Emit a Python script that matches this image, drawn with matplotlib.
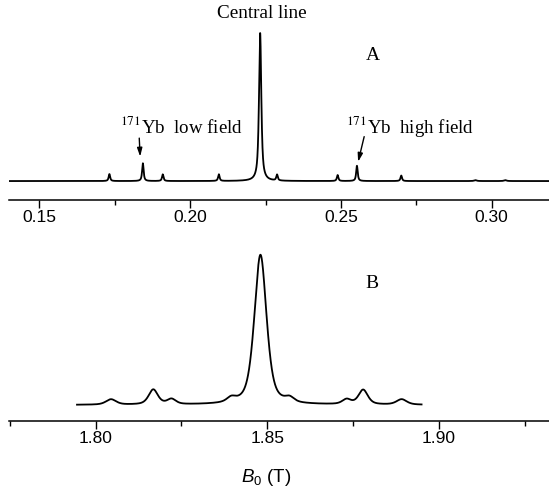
"""EPR spectra of 171Yb: panel A (low field) and panel B (high field)."""

import matplotlib
matplotlib.use("Agg")
import matplotlib.pyplot as plt
import numpy as np

plt.rcParams["font.family"] = ["Liberation Sans", "DejaVu Sans"]
plt.rcParams["mathtext.fontset"] = "custom"
plt.rcParams["mathtext.rm"] = "Liberation Sans"
plt.rcParams["mathtext.it"] = "Liberation Sans:italic"

SERIF = ["Liberation Serif", "DejaVu Serif"]

# ── Peak tables ────────────────────────────────────────────
# Panel A (B0 in T, intensity relative to central line)
a_centers = [0.1732, 0.1843, 0.1909, 0.2095, 0.2232, 0.2288,
             0.2489, 0.2553, 0.2700, 0.2946, 0.3045]
a_heights = [0.047, 0.120, 0.045, 0.045, 1.000, 0.040,
             0.040, 0.103, 0.037, 0.006, 0.006]
a_widths = [0.0006, 0.0006, 0.0006, 0.0006, 0.0009, 0.0006,
            0.0006, 0.0006, 0.0006, 0.0010, 0.0010]

# Panel B
b_centers = [1.8045, 1.8168, 1.8221, 1.8395, 1.8480, 1.8565,
             1.8731, 1.8779, 1.8891]
b_heights = [0.036, 0.100, 0.035, 0.030, 1.000, 0.030,
             0.033, 0.098, 0.036]
b_widths = [0.0035, 0.0032, 0.0030, 0.0030, 0.0042, 0.0030,
            0.0030, 0.0032, 0.0035]
b_range = (1.7946, 1.8949)

a_ticks = [0.15, 0.20, 0.25, 0.30]
a_minor = [0.175, 0.225, 0.275]
b_ticks = [1.80, 1.85, 1.90]
b_minor = [1.775, 1.825, 1.875, 1.925]


def spectrum(x, centers, heights, widths, eta):
    """Sum of pseudo-Voigt lines."""
    y = np.zeros_like(x)
    for c, h, w in zip(centers, heights, widths):
        lor = 1.0 / (1.0 + ((x - c) / (w / 2)) ** 2)
        gau = np.exp(-4 * np.log(2) * ((x - c) / w) ** 2)
        y += h * (eta * lor + (1 - eta) * gau)
    return y


def style_axis(ax, major, minor):
    for side in ("left", "right", "top"):
        ax.spines[side].set_visible(False)
    ax.spines["bottom"].set_linewidth(1.1)
    ax.set_yticks([])
    ax.set_xticks(major)
    ax.set_xticks(minor, minor=True)
    ax.tick_params(axis="x", which="major", direction="out", length=6,
                   width=1.0, pad=1.5, labelsize=12.5)
    ax.tick_params(axis="x", which="minor", direction="out", length=3.5,
                   width=1.0)
    ax.xaxis.set_major_formatter(matplotlib.ticker.FormatStrFormatter("%.2f"))
    ax.patch.set_visible(False)


fig = plt.figure(figsize=(5.49, 4.92), dpi=100)

# ── Panel A ────────────────────────────────────────────────
axA = fig.add_axes([9 / 549, 292 / 492, 540 / 549, 200 / 492])
xa = np.linspace(0.1399, 0.3190, 8000)
ya = spectrum(xa, a_centers, a_heights, a_widths, eta=0.8)
axA.plot(xa, ya, color="black", lw=1.3)
axA.set_xlim(0.1399, 0.3190)
axA.set_ylim(-0.128, 1.223)
style_axis(axA, a_ticks, a_minor)

axA.text(0.2239, 1.135, "Central line", ha="center", va="center",
         fontsize=13.8, family=SERIF)
axA.text(0.2607, 0.845, "A", ha="center", va="center",
         fontsize=14, family=SERIF)
axA.text(0.1768, 0.37, r"$^{171}$Yb  low field", ha="left", va="center",
         fontsize=13.6, family=SERIF, math_fontfamily="stix")
axA.text(0.2516, 0.37, r"$^{171}$Yb  high field", ha="left", va="center",
         fontsize=13.6, family=SERIF, math_fontfamily="stix")
axA.annotate("", xy=(0.1834, 0.165), xytext=(0.1831, 0.29),
             arrowprops=dict(arrowstyle="-|>,head_length=0.5,head_width=0.15",
                             color="black", lw=1.0, shrinkA=0, shrinkB=0))
axA.annotate("", xy=(0.2557, 0.13), xytext=(0.2577, 0.30),
             arrowprops=dict(arrowstyle="-|>,head_length=0.5,head_width=0.15",
                             color="black", lw=1.0, shrinkA=0, shrinkB=0))

# ── Panel B ────────────────────────────────────────────────
axB = fig.add_axes([9 / 549, 71.3 / 492, 540 / 549, 188.7 / 492])
xb = np.linspace(b_range[0], b_range[1], 4000)
yb = spectrum(xb, b_centers, b_heights, b_widths, eta=0.55)
axB.plot(xb, yb, color="black", lw=1.3)
axB.set_xlim(1.7748, 1.9320)
axB.set_ylim(-0.105, 1.153)
style_axis(axB, b_ticks, b_minor)

axB.text(1.8804, 0.81, "B", ha="center", va="center",
         fontsize=14, family=SERIF)
axB.set_xlabel(r"$B_0$ (T)", fontsize=13.5)
axB.xaxis.set_label_coords(0.476, -0.245)

fig.savefig("out.png", dpi=100, facecolor="white")
